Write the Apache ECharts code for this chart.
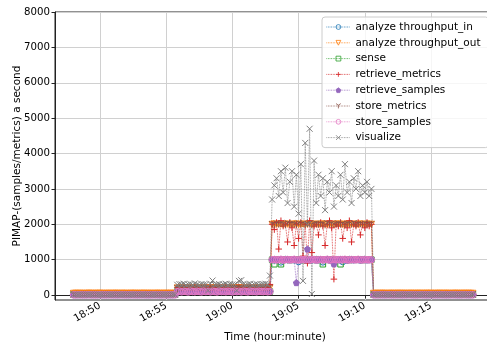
<!DOCTYPE html>
<html>
<head>
<meta charset="utf-8">
<script src="https://cdn.jsdelivr.net/npm/echarts@6/dist/echarts.min.js"></script>
<style>
html,body{margin:0;padding:0;background:#fff;}
#chart{width:487px;height:346px;}
</style>
</head>
<body>
<div id="chart"></div>
<script>
// Sampling: every 10 s starting 18:48:00
const START_TIME = [18, 48, 0];
const STEP_SECONDS = 10;

const seriesNames = ['analyze throughput_in', 'analyze throughput_out', 'sense', 'retrieve_metrics',
  'retrieve_samples', 'store_metrics', 'store_samples', 'visualize'];

const xTickLabels = ['18:50', '18:55', '19:00', '19:05', '19:10', '19:15'];
const yTickValues = [0, 1000, 2000, 3000, 4000, 5000, 6000, 7000, 8000];

const analyzeIn = [
  10,10,11,10,9,10,10,11,10,10, 10,9,10,10,11,10,10,10,9,10, 10,11,10,10,10,9,10,10,11,10, 10,10,9,10,10,11,10,10,10,9, 10,10,11,10,10,9,10,
  100,98,102,101,99,100,103,97,100,101, 99,100,102,98,100,101,99,100,102,100, 98,101,100,99,102,100,101,97,100,103, 99,100,101,98,100,102,99,100,101,100, 99,102,100,
  1000,990,1005,1000,930,1000,1010,995,1000,1005, 990,1000,940,1000,1010,995,1000,1005,990,1000, 1010,995,1000,930,1000,1005,990,1000,1010,995, 1000,1005,940,1000,990,1010,1000,995,1005,1000, 990,1000,1010,995,1000,1005,
  10,10,9,10,11,10,10,10,9,10, 11,10,10,9,10,10,11,10,10,10, 9,10,10,11,10,10,10,9,10,10, 11,10,10,9,10,10,10,11,10,10, 9,10,10,11,10,10
];
const analyzeOut = [
  50,52,49,51,50,48,50,53,50,49, 51,50,52,50,48,50,51,49,50,52, 50,49,51,50,50,48,52,50,51,49, 50,50,52,49,50,51,48,50,52,50, 49,51,50,50,52,49,50,
  200,205,198,202,200,197,203,200,199,201, 200,204,198,200,202,199,200,203,197,200, 201,200,198,204,200,199,202,200,201,198, 200,203,199,200,202,198,200,201,199,203, 200,198,202,
  2000,2010,1995,2005,2000,1990,2010,2000,1995,2005, 2000,2010,1990,2000,2005,1995,2000,2010,1990,2000, 2005,1995,2000,2010,2000,1990,2005,2000,1995,2010, 2000,2005,1990,2000,2010,1995,2000,2005,2000,1990, 2010,2000,1995,2005,2000,2000,
  50,51,49,50,52,50,48,50,51,50, 49,52,50,50,51,48,50,52,49,50, 51,50,50,49,52,50,51,48,50,50, 52,49,50,51,50,48,50,52,50,49, 51,50,50,52,49,50
];
const sense = [
  10,11,10,10,9,10,11,10,10,10, 9,10,10,11,10,10,9,10,10,11, 10,10,10,9,10,11,10,10,10,9, 10,10,11,10,9,10,10,10,11,10, 10,9,10,10,11,10,10,
  100,102,99,101,100,98,102,100,101,99, 100,103,98,100,101,99,102,100,98,101, 100,99,102,100,101,98,100,102,99,100, 101,100,98,102,100,99,101,100,102,98, 100,101,99,
  1000,870,1000,1005,870,995,1000,1010,990,1000, 1005,995,1000,1010,990,1000,1005,995,1000,1010, 990,1000,1005,870,1000,995,1010,1000,990,1005, 1000,870,995,1010,1000,990,1005,1000,995,1010, 1000,990,1005,1000,995,1000,
  10,10,11,10,9,10,10,11,10,10, 10,9,10,11,10,10,10,9,10,11, 10,10,10,9,10,10,11,10,10,9, 10,11,10,10,10,9,10,10,11,10, 10,10,9,10,11,10
];
const retrieveMetrics = [
  20,21,19,20,22,20,19,21,20,20, 21,20,19,20,22,20,21,19,20,20, 22,20,19,21,20,20,21,19,20,22, 20,21,20,19,20,21,20,22,19,20, 20,21,19,20,22,20,21,
  210,205,215,200,220,208,212,205,218,210, 200,215,210,222,205,212,200,218,208,215, 210,205,220,212,200,215,208,210,222,205, 212,200,218,210,205,215,210,208,220,205, 212,210,300,
  2000,1850,2050,1300,2100,1950,2000,1500,2050,1900, 1400,2000,1600,2050,1100,2000,900,2100,1200,1950, 2000,1700,2050,1950,1400,2000,2100,1900,450,2000, 1950,2050,1600,2000,1900,2100,1500,2000,1950,2050, 1700,2000,1900,2050,1950,2000,
  20,20,21,19,20,22,20,21,19,20, 20,22,20,19,21,20,20,21,19,20, 22,20,21,20,19,20,21,20,22,19, 20,20,21,19,20,22,20,21,20,19, 20,21,20,22,19,20
];
const retrieveSamples = [
  10,10,9,10,11,10,10,10,9,10, 11,10,10,9,10,10,11,10,10,10, 9,10,10,11,10,10,10,9,10,10, 11,10,10,9,10,10,10,11,10,10, 9,10,10,11,10,10,10,
  101,99,100,102,98,100,101,99,103,100, 98,101,100,99,102,100,98,101,100,103, 99,100,101,98,100,102,99,100,101,98, 100,102,99,101,100,98,102,100,99,101, 100,98,102,
  1000,1005,995,1000,1010,990,1000,1005,995,1000, 1010,350,1000,995,1005,1000,1300,995,1000,1010, 990,1000,1005,995,1000,1010,990,1000,880,1005, 1000,995,1010,1000,990,1005,1000,995,1010,1000, 990,1005,1000,995,1000,1005,
  10,10,11,10,10,9,10,10,11,10, 10,10,9,10,11,10,10,10,9,10, 10,11,10,10,9,10,10,10,11,10, 10,9,10,10,11,10,10,10,9,10, 10,11,10,10,9,10
];
const storeMetrics = [
  22,21,23,22,20,22,23,21,22,22, 20,22,23,21,22,22,21,23,22,20, 22,21,22,23,22,21,20,22,23,22, 21,22,22,20,23,22,21,22,22,23, 21,22,20,22,23,21,22,
  200,203,197,201,199,204,200,196,202,200, 198,203,200,199,201,197,204,200,198,202, 200,199,203,197,201,200,198,204,199,200, 202,197,200,203,199,201,198,200,202,199, 201,200,203,
  2000,1980,2020,1990,2010,2000,1970,2030,1995,2005, 2000,1975,2025,1990,2010,1985,2000,2020,1980,2000, 2015,1990,2005,2000,1970,2025,1995,2010,1985,2000, 2020,1990,2005,1980,2010,2000,1995,2025,1975,2005, 2000,1990,2015,1985,2010,2000,
  22,22,21,23,22,20,22,23,21,22, 22,20,23,22,21,22,22,23,21,20, 22,22,21,23,22,21,22,20,22,23, 21,22,22,21,23,22,20,22,21,22, 23,22,21,22,20,22
];
const storeSamples = [
  8,8,9,8,7,8,8,9,8,8, 7,8,8,9,8,8,8,7,8,9, 8,8,8,7,8,9,8,8,8,7, 8,8,9,8,8,7,8,8,9,8, 8,8,7,8,9,8,8,
  95,110,90,105,100,85,115,100,92,108, 100,88,112,97,105,90,110,100,86,114, 98,104,92,108,100,88,112,96,104,90, 110,100,87,113,99,105,91,109,100,95, 106,92,100,
  1000,1005,995,1000,1010,990,1000,1005,995,1000, 1010,990,1000,995,1005,1000,1010,995,1000,1005, 990,1000,1005,995,1000,1010,990,1000,1005,995, 1000,1005,995,1010,1000,990,1005,1000,995,1010, 1000,990,1005,1000,995,1000,
  8,8,7,8,9,8,8,8,7,8, 9,8,8,7,8,8,9,8,8,8, 7,8,8,9,8,8,8,7,8,8, 9,8,8,7,8,8,8,9,8,8, 7,8,8,9,8,8
];
const visualize = [
  12,14,11,13,12,10,13,12,14,11, 12,13,12,10,14,12,11,13,12,12, 14,11,12,13,12,10,13,12,14,12, 11,13,12,12,14,11,12,13,10,12, 13,12,14,11,12,13,12,
  290,310,300,320,280,300,310,290,330,300, 280,310,300,300,130,320,410,290,300,310, 280,300,320,290,310,300,300,130,400,420, 310,290,300,320,280,300,310,290,300,310, 320,300,550,
  2700,3100,3300,2800,3500,2900,3600,2600,3200,3500, 2500,3400,2300,3700,400,4300,2000,4700,30,3800, 2600,3400,2800,3300,2400,3200,2900,3500,2500,3100, 2800,3400,2700,3700,2900,3200,2600,3300,3000,3500, 2800,3100,2900,3200,2800,3000,
  12,13,12,14,11,12,13,12,10,14, 12,11,13,12,12,14,11,12,13,12, 10,13,12,14,12,11,13,12,12,14, 11,12,13,10,12,13,12,14,11,12, 13,12,12,14,11,12
];

const seriesValues = [analyzeIn, analyzeOut, sense, retrieveMetrics, retrieveSamples, storeMetrics, storeSamples, visualize];
const colors = ['#1f77b4', '#ff7f0e', '#2ca02c', '#d62728', '#9467bd', '#8c564b', '#e377c2', '#7f7f7f'];

const T0 = Date.UTC(2000, 0, 1, START_TIME[0], START_TIME[1], START_TIME[2]);
const times = analyzeIn.map((_, i) => T0 + i * STEP_SECONDS * 1000);
const xTickValues = xTickLabels.map(s => Date.UTC(2000, 0, 1, +s.split(':')[0], +s.split(':')[1], 0));

const PX_PER_MIN = 13.24;
const GRID_LEFT = 55, GRID_WIDTH = 440;
const xMin = xTickValues[0] - (100 - GRID_LEFT) / PX_PER_MIN * 60000;
const xMax = xMin + GRID_WIDTH / PX_PER_MIN * 60000;

const symbols = [
  {symbol: 'circle', size: 6, filled: false},
  {symbol: 'triangle', size: 6, filled: false, rotate: 180},
  {symbol: 'rect', size: 5.5, filled: false},
  {symbol: 'path://M0,-5L0,5M-5,0L5,0', size: 6.5, filled: false},
  {symbol: 'path://M0,-10L9.51,-3.09L5.88,8.09L-5.88,8.09L-9.51,-3.09Z', size: 6, filled: true},
  {symbol: 'path://M0,0L0,10M0,0L-8.66,-5M0,0L8.66,-5', size: 6, filled: false},
  {symbol: 'circle', size: 6.5, filled: false},
  {symbol: 'path://M-5,-5L5,5M-5,5L5,-5', size: 6, filled: false}
];

const FONT = 'DejaVu Sans';
const series = seriesNames.map((name, k) => ({
  name: name,
  type: 'line',
  data: seriesValues[k].map((v, i) => [times[i], v]),
  symbol: symbols[k].symbol,
  symbolSize: symbols[k].size,
  symbolRotate: symbols[k].rotate || 0,
  showAllSymbol: true,
  lineStyle: {color: colors[k], width: 0.8, type: 'dotted'},
  itemStyle: {
    color: symbols[k].filled ? colors[k] : 'rgba(0,0,0,0)',
    borderColor: colors[k],
    borderWidth: 1
  },
  emphasis: {disabled: true},
  animation: false
}));

const chart = echarts.init(document.getElementById('chart'), null, {renderer: 'canvas'});
chart.setOption({
  animation: false,
  backgroundColor: '#fff',
  grid: {
    left: GRID_LEFT, top: 12, width: GRID_WIDTH, height: 288,
    outerBoundsMode: 'none', containLabel: false,
    show: true, borderColor: '#222', borderWidth: 1, backgroundColor: 'transparent'
  },
  legend: {
    orient: 'vertical',
    left: 322, top: 17,
    padding: [4, 8, 4, 4],
    itemWidth: 24, itemHeight: 6, itemGap: 3.8,
    backgroundColor: 'rgba(255,255,255,0.8)',
    borderColor: '#cccccc', borderWidth: 1, borderRadius: 3,
    lineStyle: {width: 0.8},
    itemStyle: {borderWidth: 0.8},
    textStyle: {fontFamily: FONT, fontSize: 10.5, color: '#000', lineHeight: 12},
    data: seriesNames
  },
  xAxis: {
    type: 'value',
    min: xMin, max: xMax,
    name: 'Time (hour:minute)',
    nameLocation: 'middle', nameGap: 32, nameMoveOverlap: false,
    nameTextStyle: {fontFamily: FONT, fontSize: 10.5, color: '#000'},
    axisLine: {show: true, lineStyle: {color: '#222', width: 1}},
    axisTick: {show: true, customValues: xTickValues, length: 3.5, lineStyle: {color: '#222'}},
    axisLabel: {
      customValues: xTickValues, rotate: 30, margin: 5,
      fontFamily: FONT, fontSize: 10.2, color: '#000',
      formatter: v => {
        const d = new Date(v);
        return String(d.getUTCHours()).padStart(2, '0') + ':' + String(d.getUTCMinutes()).padStart(2, '0');
      }
    },
    splitLine: {show: true, lineStyle: {color: '#d0d0d0', width: 1}}
  },
  yAxis: {
    type: 'value',
    min: -140, max: 8000,
    name: 'PIMAP-(samples/metrics) a second',
    nameLocation: 'middle', nameGap: 32, nameMoveOverlap: false,
    nameTextStyle: {fontFamily: FONT, fontSize: 10.5, color: '#000'},
    axisLine: {show: true, lineStyle: {color: '#222', width: 1}},
    axisTick: {show: true, customValues: yTickValues, length: 3.5, lineStyle: {color: '#222'}},
    axisLabel: {customValues: yTickValues, margin: 5, fontFamily: FONT, fontSize: 10.2, color: '#000',
      formatter: v => String(v)},
    splitLine: {show: true, lineStyle: {color: '#d0d0d0', width: 1}}
  },
  series: series
});
</script>
</body>
</html>
